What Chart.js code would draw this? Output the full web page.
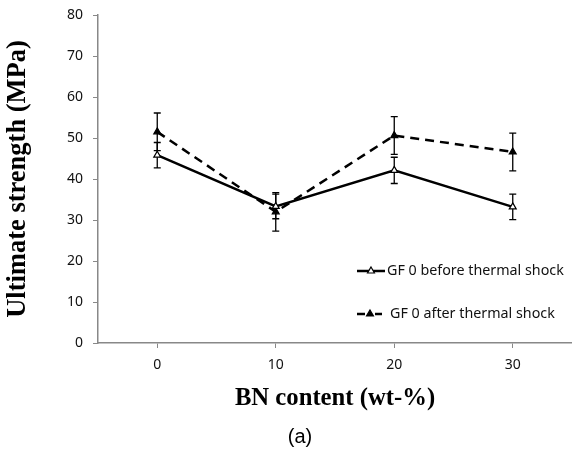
<!DOCTYPE html>
<html>
<head>
<meta charset="utf-8">
<script src="https://cdn.jsdelivr.net/npm/chart.js@4.4.0/dist/chart.umd.min.js"></script>
<style>
  html, body { margin: 0; padding: 0; background: #fff; }
  #wrap { width: 572px; height: 456px; position: relative; }
</style>
</head>
<body>
<div id="wrap"><canvas id="strengthChart"></canvas></div>
<script>
// BN content categories (wt-%)
const bnContent = ['0', '10', '20', '30'];

// Ultimate strength (MPa) and error bars
const beforeShock = [45.8, 33.3, 42.1, 33.2];
const beforeErr = [3.1, 3.0, 3.2, 3.1];
const afterShock = [51.5, 32.0, 50.6, 46.6];
const afterErr = [4.6, 4.7, 4.6, 4.6];

const legendNames = ['GF 0 before thermal shock', 'GF 0 after thermal shock'];
const errors = [beforeErr, afterErr];

// Error bars under the lines
const errorBars = {
    id: 'errorBars',
    beforeDatasetsDraw(chart) {
        const ctx = chart.ctx;
        const x = chart.scales.x;
        const y = chart.scales.y;
        ctx.save();
        ctx.strokeStyle = '#000';
        ctx.lineWidth = 1.3;
        chart.data.datasets.forEach((ds, i) => {
            ds.data.forEach((v, j) => {
                const px = x.getPixelForValue(j);
                const top = y.getPixelForValue(v + errors[i][j]);
                const bot = y.getPixelForValue(v - errors[i][j]);
                ctx.beginPath();
                ctx.moveTo(px, top); ctx.lineTo(px, bot);
                ctx.moveTo(px - 3.5, top); ctx.lineTo(px + 3.5, top);
                ctx.moveTo(px - 3.5, bot); ctx.lineTo(px + 3.5, bot);
                ctx.stroke();
            });
        });
        ctx.restore();
    }
};

// Legend inside the plot (lower right) and the "(a)" caption
const insideLegend = {
    id: 'insideLegend',
    afterDraw(chart) {
        const ctx = chart.ctx;
        ctx.save();
        const rows = [271, 314];
        chart.data.datasets.forEach((ds, i) => {
            const yy = rows[i];
            ctx.strokeStyle = '#000';
            ctx.lineWidth = 2.5;
            ctx.beginPath();
            if (i === 0) {
                ctx.moveTo(357, yy); ctx.lineTo(385, yy);
            } else {
                ctx.moveTo(357, yy); ctx.lineTo(365, yy);
                ctx.moveTo(375, yy); ctx.lineTo(382, yy);
            }
            ctx.stroke();
            ctx.fillStyle = ds.pointBackgroundColor;
            ctx.strokeStyle = '#000';
            ctx.lineWidth = 1.2;
            Chart.helpers.drawPoint(ctx, { pointStyle: 'triangle', radius: 4, rotation: 0, borderWidth: 1.2 }, i === 0 ? 371 : 370, yy);
            ctx.fillStyle = '#111';
            ctx.font = '14.3px "Noto Sans"';
            ctx.textBaseline = 'middle';
            ctx.textAlign = 'left';
            ctx.fillText(legendNames[i], i === 0 ? 387 : 390, yy);
        });
        ctx.fillStyle = '#000';
        ctx.font = '20px "Liberation Sans"';
        ctx.textAlign = 'center';
        ctx.textBaseline = 'middle';
        ctx.fillText('(a)', 300, 437);
        ctx.restore();
    }
};

const ctx = document.getElementById('strengthChart').getContext('2d');
new Chart(ctx, {
    type: 'line',
    data: {
        labels: bnContent,
        datasets: [
            {
                label: legendNames[0],
                data: beforeShock,
                borderColor: '#000',
                borderWidth: 2.5,
                pointStyle: 'triangle',
                pointRadius: 4,
                pointBorderWidth: 1.2,
                pointBorderColor: '#000',
                pointBackgroundColor: '#fff',
                tension: 0
            },
            {
                label: legendNames[1],
                data: afterShock,
                borderColor: '#000',
                borderWidth: 2.5,
                borderDash: [9, 6],
                pointStyle: 'triangle',
                pointRadius: 4,
                pointBorderWidth: 1.2,
                pointBorderColor: '#000',
                pointBackgroundColor: '#000',
                tension: 0
            }
        ]
    },
    options: {
        responsive: true,
        maintainAspectRatio: false,
        animation: false,
        layout: { autoPadding: false, padding: { top: 15, right: 0, left: 0, bottom: 32 } },
        scales: {
            x: {
                offset: true,
                grid: { display: true, drawOnChartArea: false, offset: false, tickLength: 5, color: '#888' },
                border: { color: '#888', width: 1.5 },
                ticks: { color: '#111', font: { family: 'Noto Sans', size: 14 }, padding: 9 },
                title: {
                    display: true,
                    text: 'BN content (wt-%)',
                    color: '#000',
                    font: { family: 'Liberation Serif', size: 24.7, weight: 'bold' },
                    padding: { top: 0, bottom: 11 }
                },
                afterFit(scale) {
                    scale.height = 81;
                    scale.paddingLeft = 0;
                    scale.paddingRight = 0;
                }
            },
            y: {
                min: 0,
                max: 80,
                grid: { display: true, drawOnChartArea: false, tickLength: 5, color: '#888' },
                border: { color: '#888', width: 1.5 },
                ticks: { stepSize: 10, color: '#111', font: { family: 'Noto Sans', size: 14 }, padding: 10 },
                title: {
                    display: true,
                    text: 'Ultimate strength (MPa)',
                    color: '#000',
                    font: { family: 'Liberation Serif', size: 26.5, weight: 'bold' },
                    padding: { top: 2, bottom: 0 }
                },
                afterFit(scale) {
                    scale.width = 98;
                    scale.paddingTop = 0;
                    scale.paddingBottom = 0;
                }
            }
        },
        plugins: {
            legend: { display: false },
            tooltip: { enabled: false },
            title: { display: false }
        }
    },
    plugins: [errorBars, insideLegend]
});
</script>
</body>
</html>
